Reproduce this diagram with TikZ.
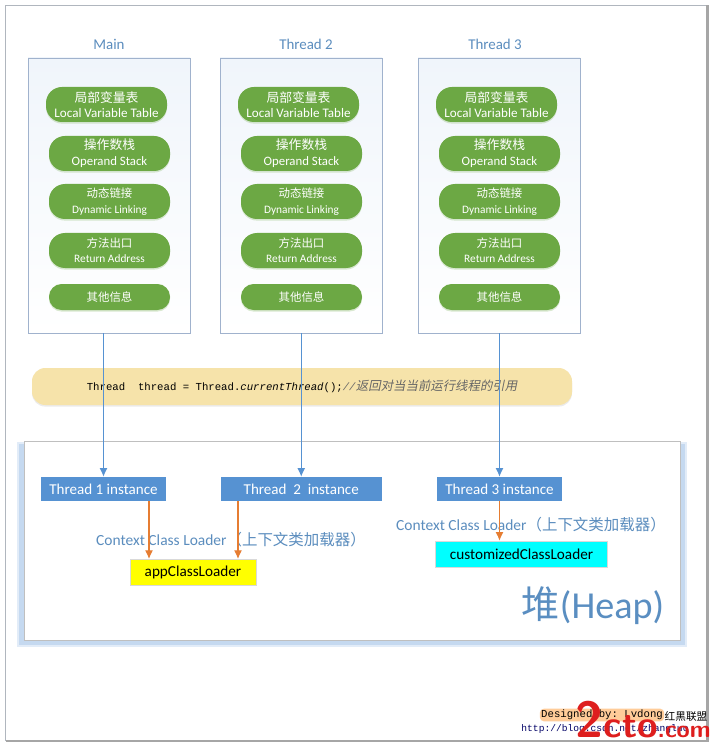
\documentclass[tikz,border=0pt]{standalone}
\usepackage{fontspec}
\usepackage{xcolor}
\setmainfont{Carlito}
\setmonofont{Liberation Mono}
\newfontfamily\cjk{Noto Sans CJK SC}
\usetikzlibrary{
  arrows.meta,
  positioning,
  shadows,
  calc
}
\definecolor{framegray}{RGB}{176, 182, 190}
\definecolor{titleblue}{RGB}{91, 141, 190}
\definecolor{boxline}{RGB}{160, 178, 205}
\definecolor{boxtop}{RGB}{240, 245, 251}
\definecolor{pillgreen}{RGB}{108, 168, 68}
\definecolor{bandyellow}{RGB}{246, 227, 170}
\definecolor{heapshadow}{RGB}{197, 217, 240}
\definecolor{instblue}{RGB}{86, 146, 210}
\definecolor{linkorange}{RGB}{230, 125, 50}
\definecolor{loaderyellow}{RGB}{255, 255, 0}
\definecolor{loadercyan}{RGB}{0, 255, 255}
\definecolor{markred}{RGB}{222, 30, 30}
\newcommand{\fs}[1]{\fontsize{#1}{#1}\selectfont}
\tikzset{
  threadbox/.style={draw=boxline, top color=boxtop, bottom color=white, minimum width=162*0.75, minimum height=275*0.75},
  pill/.style={rounded corners=12pt, fill=pillgreen, text=white, minimum width=121*0.75, minimum height=35*0.75, align=center, inner sep=0pt,
    drop shadow={shadow xshift=0pt, shadow yshift=-1.2pt, fill=pillgreen, opacity=0.25}},
  instbox/.style={fill=instblue, text=white, minimum height=24*0.75, inner sep=0pt, font=\fs{11.3}},
  loaderbox/.style={draw=black!15, text=black, minimum height=26*0.75, inner sep=0pt, font=\fs{11.4}},
  ctxlabel/.style={text=titleblue, inner sep=0pt, font=\fs{11.6}},
  threadline/.style={draw=instblue, line width=0.85pt, -{Latex[length=6.5pt,width=6pt]}},
  loaderline/.style={draw=linkorange, line width=0.9pt, -{Latex[length=6.5pt,width=6pt]}}
}
\begin{document}
\begin{tikzpicture}[x=0.75pt, y=-0.75pt]
  \useasboundingbox (0, 0) rectangle (714, 748);
  \fill[white] (0, 0) rectangle (714, 748);
  % outer frame
  \draw[framegray, line width=0.8pt] (5.5, 5.5) -- (707.5, 5.5);
  \draw[framegray, line width=0.8pt] (5.5, 5.5) -- (5.5, 741);
  \draw[black!35, line width=1.6pt] (707.5, 5.5) -- (707.5, 741) -- (5.5, 741);
  % three thread stacks
  \foreach \bx/\tx/\dx/\tlab/\tname in {
    109/109/0/Main/a,
    301/306/192/Thread 2/b,
    499/495/390/Thread 3/c%
  } {
    \node[threadbox] (box\tname) at (\bx, 195.5) {};
    \node[text=titleblue, inner sep=0pt, font=\fs{11.2}] (title\tname) at (\tx, 44) {\tlab};
    \begin{scope}[xshift=\dx*0.75pt]
      \node[pill] (lvt\tname) at (106.5, 104.5) {{\cjk\fs{9.6}局部变量表}\\[-0.2pt]\fs{9.8}Local Variable Table};
      \node[pill] (ops\tname) at (109.5, 153.5) {{\cjk\fs{9.6}操作数栈}\\[-0.2pt]\fs{9.6}Operand Stack};
      \node[pill] (dyn\tname) at (109.5, 201.5) {{\cjk\fs{8.6}动态链接}\\[-0.5pt]\fs{8.5}Dynamic Linking};
      \node[pill] (ret\tname) at (109.5, 250.5) {{\cjk\fs{8.6}方法出口}\\[-0.5pt]\fs{8.5}Return Address};
      \node[pill, minimum height=26*0.75, rounded corners=9.5pt] (oth\tname) at (109.5, 297) {{\cjk\fs{8.6}其他信息}};
    \end{scope}
  }
  % code band
  \node[fill=bandyellow, rounded corners=10pt, minimum width=540*0.75, minimum height=37*0.75, inner sep=0pt,
    drop shadow={shadow xshift=0pt, shadow yshift=-1.2pt, fill=black, opacity=0.08}] (band) at (302, 386.5) {};
  \node[inner sep=0pt, font=\fs{8}] (code) at (302, 386.5) {\ttfamily Thread~~thread = Thread.\textit{currentThread}();\textcolor{black!60}{\textit{//}{\cjk\fs{9.3}\addfontfeature{FakeSlant=0.2}返回对当当前运行线程的引用}}};
  % heap
  \fill[heapshadow!50] (17, 442) rectangle (687, 647);
  \fill[heapshadow] (19, 444) rectangle (685, 645);
  \node[draw=black!25, fill=white, minimum width=656*0.75, minimum height=199*0.75, inner sep=0pt] (heap) at (352, 540.5) {};
  \node[text=titleblue!85!instblue, inner sep=0pt, font=\fs{28.6}] (heaplabel) at (593, 606) {{\cjk 堆}(Heap)};
  % instances and loaders
  \node[instbox, minimum width=125*0.75] (inst1) at (103.5, 489) {Thread 1 instance};
  \node[instbox, minimum width=161.5*0.75] (inst2) at (301.25, 489) {Thread~~2~~instance};
  \node[instbox, minimum width=125*0.75] (inst3) at (499.5, 489) {Thread 3 instance};
  \node[loaderbox, fill=loaderyellow, minimum width=126*0.75] (apploader) at (193, 572) {appClassLoader};
  \node[loaderbox, fill=loadercyan, minimum width=172*0.75] (customloader) at (521.5, 554) {customizedClassLoader};
  \node[ctxlabel] (ctx1) at (231, 540) {Context Class Loader{\cjk（上下文类加载器）}};
  \node[ctxlabel] (ctx2) at (531, 525) {Context Class Loader{\cjk（上下文类加载器）}};
  % connectors
  \draw[threadline] (boxa.south -| inst1.north) -- (inst1.north);
  \draw[threadline] (boxb.south -| inst2.north) -- (inst2.north);
  \draw[threadline] (boxc.south -| inst3.north) -- (inst3.north);
  \coordinate (app1) at (149, 559);
  \coordinate (app2) at (238, 559);
  \draw[loaderline] (inst1.south -| app1) -- (app1);
  \draw[loaderline] (inst2.south -| app2) -- (app2);
  \draw[loaderline] (inst3.south) -- (inst3.south |- customloader.north);
  % watermark
  \node[fill=orange!40, rounded corners=3pt, inner sep=1pt, font=\ttfamily\fs{8}] (mark1) at (602, 715) {Designed by: Lvdong};
  \node[inner sep=0pt, font=\ttfamily\fs{7.2}, text=blue!40!black] (mark2) at (605, 729) {http://blog.csdn.net/zhangluo};
  \node[inner sep=0pt, font=\cjk\fs{8}] (mark4) at (686, 716) {红黑联盟};
  \node[inner sep=0pt, anchor=base east, text=markred, font=\sffamily\bfseries] (mark3) at (711, 737) {\fs{38}2\fs{28}cto\fs{18}.com};
\end{tikzpicture}
\end{document}
